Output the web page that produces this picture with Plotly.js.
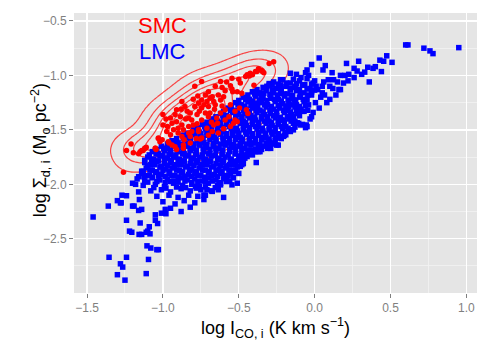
<!DOCTYPE html>
<html>
<head>
<meta charset="utf-8">
<script src="https://cdn.plot.ly/plotly-3.0.1.min.js"></script>
<style>
  html, body { margin: 0; padding: 0; background: #fff; }
  #panelGraph0 { width: 491px; height: 350px; }
</style>
</head>
<body>
<div id="panelGraph0"></div>
<script>
// SMC points [log I_CO, log Sigma_d]
var smcPoints = [
  [-1.21,-1.63],[-1.24,-1.69],[-1.195,-1.71],[-1.16,-1.72],[-1.15,-1.70],[-1.11,-1.66],[-1.13,-1.69],
  [-1.045,-1.68],[-1.03,-1.58],[-1.26,-1.89],[-1.14,-1.69],[-1.12,-1.67],[-1.05,-1.67],[-1.02,-1.61],
  [-0.96,-1.62],[-0.94,-1.64],[-0.91,-1.68],[-0.90,-1.53],[-0.875,-1.56],[-0.865,-1.64],[-0.83,-1.53],
  [-0.81,-1.515],[-0.82,-1.56],[-0.765,-1.515],[-0.755,-1.585],
  [-0.39,-0.965],[-0.37,-0.94],[-0.43,-1.005],[-0.455,-1.01],[-0.50,-1.035],[-0.545,-1.025],[-0.58,-1.06],
  [-0.62,-1.055],[-0.655,-1.10],[-0.61,-1.11],[-0.555,-1.095],[-0.59,-1.14],[-0.545,-1.125],[-0.51,-1.15],
  [-0.49,-1.07],[-0.48,-1.165],
  [-0.70,-1.15],[-0.72,-1.18],[-0.675,-1.195],[-0.745,-1.225],[-0.71,-1.24],[-0.665,-1.24],[-0.765,-1.255],
  [-0.80,-1.22],[-0.79,-1.285],[-0.745,-1.30],[-0.70,-1.285],[-0.655,-1.27],[-0.62,-1.225],[-0.635,-1.18],
  [-0.60,-1.195],[-0.72,-1.345],[-0.69,-1.345],[-0.775,-1.36],[-0.82,-1.345],[-0.855,-1.285],[-0.83,-1.39],
  [-0.885,-1.38],[-0.92,-1.36],[-0.95,-1.39],[-0.94,-1.44],[-0.91,-1.425],[-0.875,-1.455],[-0.90,-1.485],
  [-0.865,-1.50],[-0.83,-1.47],[-0.80,-1.455],[-0.765,-1.50],[-0.775,-1.445],[-0.745,-1.41],[-0.71,-1.485],
  [-0.665,-1.455],[-0.645,-1.39],[-0.62,-1.345],[-0.59,-1.315],[-0.555,-1.27],[-0.565,-1.38],[-0.525,-1.33],
  [-0.59,-1.41],[-0.635,-1.53],[-0.675,-1.515],[-0.745,-1.575],[-0.82,-1.62],[-0.865,-1.67],[-0.92,-1.655],
  [-0.965,-1.61],[-0.975,-1.515],[-0.95,-1.545],[-1.00,-1.455],[-1.005,-1.59],[-1.03,-1.575],[-1.05,-1.67],
  [-1.115,-1.67],[-1.00,-1.36],[-0.91,-1.315],[-0.875,-1.24],[-0.79,-1.10],[-0.745,-1.055],[-0.555,-1.47],
  [-0.51,-1.425],[-0.45,-1.315],[-0.44,-1.35],[-0.495,-1.30],[-0.535,-1.44],[-0.525,-1.41],[-0.54,-1.15],
  [-0.40,-1.09],[-0.445,-0.995],[-0.425,-0.98],[-0.38,-0.965],[-0.345,-0.965],[-0.335,-0.975],[-0.30,-0.89],
  [-0.27,-0.875],[-0.41,-0.995],[-0.35,-0.955],
  [-0.98,-1.40],[-0.97,-1.47],[-0.93,-1.50],[-0.85,-1.40],[-0.81,-1.41],[-0.68,-1.43],[-0.70,-1.38],
  [-0.76,-1.33],[-0.66,-1.31],[-0.73,-1.27],[-0.69,-1.21],[-0.77,-1.19],[-0.84,-1.33],[-0.88,-1.31],
  [-0.61,-1.28],[-0.64,-1.44],[-0.60,-1.49],[-0.70,-1.55],[-0.78,-1.58],[-0.86,-1.59]
];

// LMC points [log I_CO, log Sigma_d]
var lmcPoints = [
  // sparse lower-left tail
  [-1.46,-2.30],[-1.355,-2.67],[-1.24,-2.67],[-1.28,-2.73],[-1.265,-2.76],[-1.30,-2.83],[-1.25,-2.88],
  [-1.11,-2.82],[-1.095,-2.69],[-1.105,-2.565],[-1.08,-2.585],[-1.04,-2.60],[-1.03,-2.60],[-1.24,-2.33],
  [-1.22,-2.43],[-1.205,-2.44],[-1.15,-2.355],[-1.157,-2.46],[-1.14,-2.46],[-1.11,-2.44],[-1.10,-2.43],
  [-1.09,-2.39],[-1.085,-2.455],[-1.05,-2.33],[-1.035,-2.36],[-1.05,-2.28],[-1.01,-2.265],[-0.98,-2.27],
  [-0.985,-2.23],[-1.16,-2.24],[-1.36,-2.20],[-1.20,-2.20],[-1.275,-2.17],[-1.30,-2.15],[-1.27,-2.10],
  [-1.28,-2.17],[-1.24,-2.105],[-1.20,-1.99],[-1.18,-2.00],[-1.19,-2.20],[-1.155,-2.14],[-1.14,-1.88],
  [-1.125,-1.93],[-1.16,-2.07],[-1.14,-2.23],
  // main cloud
  [-0.27,-1.06],[-0.21,-1.04],[-0.16,-1.07],[-0.10,-1.05],[-0.05,-1.03],[-0.02,-1.08],
  [-0.30,-1.075],[-0.24,-1.08],[-0.185,-1.07],[-0.12,-1.075],[-0.065,-1.085],[-0.01,-1.07],
  [-0.34,-1.11],[-0.30,-1.09],[-0.25,-1.12],[-0.19,-1.10],[-0.13,-1.11],[-0.08,-1.09],[-0.03,-1.12],[0.01,-1.10],
  [-0.38,-1.13],[-0.32,-1.125],[-0.28,-1.135],[-0.22,-1.125],[-0.16,-1.12],[-0.10,-1.13],[-0.05,-1.125],[0.0,-1.135],
  [-0.41,-1.15],[-0.37,-1.17],[-0.32,-1.14],[-0.27,-1.16],[-0.22,-1.15],[-0.18,-1.17],[-0.12,-1.14],[-0.07,-1.16],[-0.02,-1.15],
  [-0.44,-1.18],[-0.395,-1.17],[-0.35,-1.185],[-0.295,-1.175],[-0.245,-1.18],[-0.20,-1.17],[-0.145,-1.185],[-0.095,-1.175],[-0.045,-1.18],
  [-0.47,-1.20],[-0.43,-1.22],[-0.39,-1.19],[-0.34,-1.21],[-0.29,-1.20],[-0.24,-1.22],[-0.20,-1.19],[-0.15,-1.21],[-0.10,-1.20],[-0.05,-1.22],
  [-0.50,-1.23],[-0.455,-1.22],[-0.41,-1.235],[-0.365,-1.225],[-0.315,-1.23],[-0.265,-1.22],[-0.22,-1.235],[-0.175,-1.225],[-0.125,-1.23],[-0.075,-1.22],
  [-0.52,-1.25],[-0.48,-1.27],[-0.44,-1.24],[-0.40,-1.26],[-0.35,-1.25],[-0.31,-1.27],[-0.26,-1.24],[-0.21,-1.26],[-0.17,-1.25],[-0.12,-1.27],[-0.07,-1.24],
  [-0.55,-1.28],[-0.505,-1.27],[-0.46,-1.285],[-0.42,-1.275],[-0.375,-1.28],[-0.33,-1.27],[-0.285,-1.285],[-0.24,-1.275],[-0.19,-1.28],[-0.145,-1.27],[-0.10,-1.285],[-0.06,-1.275],
  [-0.57,-1.30],[-0.53,-1.32],[-0.49,-1.29],[-0.45,-1.31],[-0.41,-1.30],[-0.36,-1.32],[-0.32,-1.29],[-0.27,-1.31],[-0.23,-1.30],[-0.18,-1.32],[-0.13,-1.29],[-0.09,-1.31],
  [-0.60,-1.33],[-0.555,-1.32],[-0.51,-1.335],[-0.47,-1.325],[-0.43,-1.33],[-0.385,-1.32],[-0.34,-1.335],[-0.295,-1.325],[-0.25,-1.33],[-0.205,-1.32],[-0.16,-1.335],[-0.12,-1.325],[-0.08,-1.33],
  [-0.62,-1.35],[-0.58,-1.37],[-0.54,-1.34],[-0.50,-1.36],[-0.46,-1.35],[-0.42,-1.37],[-0.38,-1.34],[-0.33,-1.36],[-0.29,-1.35],[-0.25,-1.37],[-0.20,-1.34],[-0.15,-1.36],[-0.11,-1.35],
  [-0.65,-1.38],[-0.605,-1.37],[-0.565,-1.385],[-0.52,-1.375],[-0.48,-1.38],[-0.44,-1.37],[-0.395,-1.385],[-0.35,-1.375],[-0.31,-1.38],[-0.27,-1.37],[-0.225,-1.385],[-0.18,-1.375],[-0.14,-1.38],[-0.10,-1.37],
  [-0.68,-1.40],[-0.64,-1.42],[-0.60,-1.39],[-0.56,-1.41],[-0.52,-1.40],[-0.47,-1.42],[-0.43,-1.39],[-0.39,-1.41],[-0.35,-1.40],[-0.30,-1.42],[-0.26,-1.39],[-0.22,-1.41],[-0.17,-1.40],[-0.13,-1.42],
  [-0.71,-1.43],[-0.665,-1.42],[-0.62,-1.435],[-0.58,-1.425],[-0.54,-1.43],[-0.50,-1.42],[-0.455,-1.435],[-0.41,-1.425],[-0.37,-1.43],[-0.33,-1.42],[-0.285,-1.435],[-0.24,-1.425],[-0.20,-1.43],[-0.155,-1.42],[-0.115,-1.435],
  [-0.74,-1.45],[-0.70,-1.47],[-0.66,-1.44],[-0.62,-1.46],[-0.58,-1.45],[-0.54,-1.47],[-0.49,-1.44],[-0.45,-1.46],[-0.41,-1.45],[-0.37,-1.47],[-0.32,-1.44],[-0.28,-1.46],[-0.24,-1.45],[-0.19,-1.47],[-0.14,-1.44],
  [-0.77,-1.48],[-0.725,-1.47],[-0.68,-1.485],[-0.64,-1.475],[-0.60,-1.48],[-0.56,-1.47],[-0.515,-1.485],[-0.47,-1.475],[-0.43,-1.48],[-0.39,-1.47],[-0.345,-1.485],[-0.30,-1.475],[-0.26,-1.48],[-0.22,-1.47],[-0.175,-1.485],[-0.13,-1.475],
  [-0.80,-1.50],[-0.76,-1.52],[-0.72,-1.49],[-0.68,-1.51],[-0.64,-1.50],[-0.60,-1.52],[-0.55,-1.49],[-0.51,-1.51],[-0.47,-1.50],[-0.43,-1.52],[-0.38,-1.49],[-0.34,-1.51],[-0.30,-1.50],[-0.26,-1.52],[-0.21,-1.49],[-0.17,-1.51],
  [-0.84,-1.53],[-0.795,-1.52],[-0.75,-1.535],[-0.71,-1.525],[-0.67,-1.53],[-0.625,-1.52],[-0.58,-1.535],[-0.54,-1.525],[-0.50,-1.53],[-0.455,-1.52],[-0.41,-1.535],[-0.37,-1.525],[-0.325,-1.53],[-0.285,-1.52],[-0.24,-1.535],[-0.195,-1.525],
  [-0.87,-1.55],[-0.83,-1.57],[-0.79,-1.54],[-0.75,-1.56],[-0.71,-1.55],[-0.66,-1.57],[-0.62,-1.54],[-0.58,-1.56],[-0.54,-1.55],[-0.49,-1.57],[-0.45,-1.54],[-0.41,-1.56],[-0.37,-1.55],[-0.32,-1.57],[-0.28,-1.54],[-0.24,-1.56],[-0.20,-1.55],
  [-0.91,-1.58],[-0.865,-1.57],[-0.82,-1.585],[-0.78,-1.575],[-0.735,-1.58],[-0.69,-1.57],[-0.65,-1.585],[-0.605,-1.575],[-0.56,-1.58],[-0.52,-1.57],[-0.475,-1.585],[-0.43,-1.575],[-0.39,-1.58],[-0.345,-1.57],[-0.30,-1.585],[-0.26,-1.575],[-0.22,-1.58],
  [-0.94,-1.60],[-0.90,-1.62],[-0.86,-1.59],[-0.82,-1.61],[-0.77,-1.60],[-0.73,-1.62],[-0.69,-1.59],[-0.65,-1.61],[-0.60,-1.60],[-0.56,-1.62],[-0.52,-1.59],[-0.48,-1.61],[-0.43,-1.60],[-0.39,-1.62],[-0.35,-1.59],[-0.30,-1.61],[-0.26,-1.60],
  [-0.97,-1.63],[-0.925,-1.62],[-0.88,-1.635],[-0.84,-1.625],[-0.795,-1.63],[-0.75,-1.62],[-0.71,-1.635],[-0.665,-1.625],[-0.62,-1.63],[-0.58,-1.62],[-0.535,-1.635],[-0.49,-1.625],[-0.45,-1.63],[-0.405,-1.62],[-0.36,-1.635],[-0.32,-1.625],[-0.28,-1.63],
  [-1.01,-1.65],[-0.97,-1.67],[-0.93,-1.64],[-0.89,-1.66],[-0.84,-1.65],[-0.80,-1.67],[-0.76,-1.64],[-0.72,-1.66],[-0.67,-1.65],[-0.63,-1.67],[-0.59,-1.64],[-0.55,-1.66],[-0.50,-1.65],[-0.46,-1.67],[-0.42,-1.64],[-0.37,-1.66],[-0.33,-1.65],[-0.29,-1.67],
  [-1.04,-1.68],[-0.995,-1.67],[-0.95,-1.685],[-0.91,-1.675],[-0.865,-1.68],[-0.82,-1.67],[-0.78,-1.685],[-0.735,-1.675],[-0.69,-1.68],[-0.65,-1.67],[-0.605,-1.685],[-0.56,-1.675],[-0.52,-1.68],[-0.475,-1.67],[-0.43,-1.685],[-0.39,-1.675],[-0.35,-1.68],[-0.31,-1.67],
  [-1.07,-1.70],[-1.03,-1.72],[-0.99,-1.69],[-0.95,-1.71],[-0.90,-1.70],[-0.86,-1.72],[-0.82,-1.69],[-0.78,-1.71],[-0.73,-1.70],[-0.69,-1.72],[-0.65,-1.69],[-0.61,-1.71],[-0.56,-1.70],[-0.52,-1.72],[-0.48,-1.69],[-0.44,-1.71],[-0.39,-1.70],
  [-1.09,-1.73],[-1.045,-1.72],[-1.00,-1.735],[-0.96,-1.725],[-0.915,-1.73],[-0.87,-1.72],[-0.83,-1.735],[-0.785,-1.725],[-0.74,-1.73],[-0.70,-1.72],[-0.655,-1.735],[-0.61,-1.725],[-0.57,-1.73],[-0.525,-1.72],[-0.48,-1.735],[-0.44,-1.725],[-0.41,-1.73],
  [-1.10,-1.75],[-1.06,-1.77],[-1.02,-1.74],[-0.97,-1.76],[-0.93,-1.75],[-0.89,-1.77],[-0.85,-1.74],[-0.80,-1.76],[-0.76,-1.75],[-0.72,-1.77],[-0.68,-1.74],[-0.63,-1.76],[-0.59,-1.75],[-0.55,-1.77],[-0.50,-1.74],[-0.46,-1.76],
  [-1.12,-1.78],[-1.075,-1.77],[-1.03,-1.785],[-0.99,-1.775],[-0.945,-1.78],[-0.90,-1.77],[-0.86,-1.785],[-0.815,-1.775],[-0.77,-1.78],[-0.73,-1.77],[-0.685,-1.785],[-0.64,-1.775],[-0.60,-1.78],[-0.555,-1.77],[-0.51,-1.785],[-0.47,-1.775],
  [-1.12,-1.80],[-1.08,-1.82],[-1.04,-1.79],[-0.99,-1.81],[-0.95,-1.80],[-0.91,-1.82],[-0.86,-1.79],[-0.82,-1.81],[-0.78,-1.80],[-0.74,-1.82],[-0.69,-1.79],[-0.65,-1.81],[-0.61,-1.80],[-0.56,-1.82],[-0.52,-1.79],[-0.47,-1.81],
  [-1.10,-1.83],[-1.055,-1.82],[-1.01,-1.835],[-0.97,-1.825],[-0.925,-1.83],[-0.88,-1.82],[-0.84,-1.835],[-0.795,-1.825],[-0.75,-1.83],[-0.71,-1.82],[-0.665,-1.835],[-0.62,-1.825],[-0.58,-1.83],[-0.535,-1.82],[-0.49,-1.835],
  [-1.11,-1.85],[-1.07,-1.87],[-1.02,-1.84],[-0.98,-1.86],[-0.94,-1.85],[-0.89,-1.87],[-0.85,-1.84],[-0.81,-1.86],[-0.76,-1.85],[-0.72,-1.87],[-0.68,-1.84],[-0.63,-1.86],[-0.59,-1.85],[-0.55,-1.87],[-0.51,-1.84],
  [-1.13,-1.88],[-1.085,-1.87],[-1.04,-1.885],[-1.00,-1.875],[-0.955,-1.88],[-0.91,-1.87],[-0.87,-1.885],[-0.825,-1.875],[-0.78,-1.88],[-0.74,-1.87],[-0.695,-1.885],[-0.65,-1.875],[-0.61,-1.88],[-0.565,-1.87],[-0.53,-1.885],
  [-1.14,-1.90],[-1.09,-1.92],[-1.05,-1.89],[-1.01,-1.91],[-0.96,-1.90],[-0.92,-1.92],[-0.88,-1.89],[-0.83,-1.91],[-0.79,-1.90],[-0.75,-1.92],[-0.70,-1.89],[-0.66,-1.91],[-0.62,-1.90],[-0.57,-1.92],
  [-1.16,-1.93],[-1.115,-1.92],[-1.07,-1.935],[-1.03,-1.925],[-0.985,-1.93],[-0.94,-1.92],[-0.90,-1.935],[-0.855,-1.925],[-0.81,-1.93],[-0.77,-1.92],[-0.725,-1.935],[-0.68,-1.925],[-0.64,-1.93],[-0.595,-1.92],
  [-1.17,-1.95],[-1.12,-1.97],[-1.07,-1.94],[-1.02,-1.96],[-0.97,-1.95],[-0.93,-1.97],[-0.88,-1.94],[-0.84,-1.96],[-0.79,-1.95],[-0.74,-1.97],[-0.70,-1.94],[-0.65,-1.96],[-0.60,-1.95],[-0.56,-1.97],
  [-1.10,-1.98],[-1.04,-1.975],[-0.985,-1.985],[-0.95,-1.975],[-0.90,-1.98],[-0.855,-1.97],[-0.81,-1.985],[-0.77,-1.975],[-0.72,-1.98],[-0.675,-1.97],[-0.63,-1.985],[-0.58,-1.975],
  [-1.13,-2.01],[-1.05,-2.00],[-0.99,-2.02],[-0.93,-1.99],[-0.87,-2.01],[-0.81,-2.00],[-0.76,-2.02],[-0.70,-1.99],[-0.64,-2.01],
  [-1.06,-2.03],[-0.98,-2.035],[-0.91,-2.025],[-0.85,-2.03],[-0.78,-2.035],[-0.72,-2.025],[-0.655,-2.03],
  [-1.08,-2.06],[-1.01,-2.05],[-0.95,-2.07],[-0.88,-2.04],[-0.82,-2.06],[-0.75,-2.05],[-0.68,-2.06],
  [-1.04,-2.11],[-0.96,-2.10],[-0.90,-2.12],[-0.83,-2.10],[-0.77,-2.11],[-0.72,-2.10],[-0.60,-2.12],
  [-1.00,-2.16],[-0.92,-2.18],[-0.86,-2.15],[-0.79,-2.17],[-0.73,-2.14],[-0.95,-2.22],[-0.88,-2.25],[-0.82,-2.21],
  // cloud edges
  [-0.385,-1.80],[-0.48,-1.82],[-0.47,-1.73],[-0.495,-1.775],[-0.42,-1.69],[-0.40,-1.70],[-0.36,-1.70],
  [-0.24,-1.64],[-0.28,-1.62],[-0.30,-1.645],[-0.205,-1.56],[-0.16,-1.515],[-0.05,-1.47],[-0.51,-1.99],
  [-0.545,-2.005],[-0.62,-1.99],[-0.635,-2.05],[-0.675,-2.065],[-0.71,-2.05],[-0.73,-2.10],[-0.535,-1.94],
  [-0.59,-1.93],[-0.555,-1.90],[-0.52,-1.87],[-0.115,-1.33],[-0.105,-1.44],[-0.16,-1.50],[-0.19,-1.545],
  [-0.25,-1.575],[-0.25,-1.64],[-0.315,-1.62],[-0.37,-1.70],[-0.445,-1.745],[-0.51,-1.835],[-0.50,-1.90],
  [-0.58,-1.96],[-0.62,-2.005],[-0.785,-2.02],
  [-0.29,-1.21],[-0.225,-1.165],[-0.16,-1.135],[-0.225,-1.09],[-0.36,-1.165],[-0.38,-1.255],[-0.40,-1.15],
  [-0.315,-1.10],[-0.125,-1.10],[-0.135,-1.225],[-0.17,-1.285],[-0.205,-1.41],
  [-0.16,-0.98],[-0.14,-1.035],[-0.225,-1.04],[-0.28,-1.09],[-0.36,-1.16],[-0.335,-1.165],[-0.05,-0.95],
  [-0.06,-0.975],[-0.02,-0.90],
  // upper right branch
  [0.03,-0.84],[0.07,-0.91],[0.17,-1.13],[0.10,-1.22],[0.08,-1.25],[0.065,-1.18],[0.04,-1.20],
  [0.005,-1.25],[-0.02,-1.38],[-0.01,-1.34],[-0.06,-1.48],[-0.08,-1.45],[-0.055,-1.455],[0.115,-0.975],
  [0.125,-1.04],[0.15,-1.06],[0.09,-1.04],[0.06,-1.06],[0.055,-0.95],
  [-0.12,-0.99],[-0.09,-1.02],[-0.04,-1.00],[0.0,-1.05],[0.02,-1.13],[-0.02,-1.18],[0.05,-1.10],[0.12,-1.12],
  [0.14,-1.18],[0.03,-1.30],[-0.04,-1.27],[-0.07,-1.33],[-0.03,-1.40],[0.10,-1.10],[0.19,-1.07],[0.22,-1.05],
  [0.31,-0.99],[0.33,-0.97],[0.28,-0.96],[0.16,-1.13],[0.05,-1.16],[-0.045,-1.32],[-0.094,-1.455],[-0.14,-1.50],
  [0.60,-0.72],[0.615,-0.72],[0.72,-0.75],[0.76,-0.775],[0.78,-0.80],[0.95,-0.745],[0.475,-0.82],[0.455,-0.87],
  [0.43,-0.86],[0.51,-0.88],[0.29,-0.87],[0.21,-0.89],[0.40,-0.92],[0.385,-0.935],[0.35,-0.925],[0.44,-0.965],
  [0.26,-0.935],[0.225,-0.99],[0.20,-1.00],[0.17,-1.00],[0.36,-1.06],[0.26,-1.02]
];

var xTickVals = [-1.5, -1.0, -0.5, 0.0, 0.5, 1.0];
var xTickText = ['\u22121.5', '\u22121.0', '\u22120.5', '0.0', '0.5', '1.0'];
var yTickVals = [-2.5, -2.0, -1.5, -1.0, -0.5];
var yTickText = ['\u22122.5', '\u22122.0', '\u22121.5', '\u22121.0', '\u22120.5'];

var smcX = smcPoints.map(function (p) { return p[0]; });
var smcY = smcPoints.map(function (p) { return p[1]; });
var lmcX = lmcPoints.map(function (p) { return p[0]; });
var lmcY = lmcPoints.map(function (p) { return p[1]; });

// 2d kernel density of the SMC points (like MASS::kde2d, a bit smoother)
function bandwidth(v) {
  var s = v.slice().sort(function (a, b) { return a - b; });
  var n = s.length;
  var mean = s.reduce(function (a, b) { return a + b; }, 0) / n;
  var sd = Math.sqrt(s.reduce(function (a, b) { return a + (b - mean) * (b - mean); }, 0) / (n - 1));
  var q1 = s[Math.floor(0.25 * (n - 1))], q3 = s[Math.floor(0.75 * (n - 1))];
  return 4 * 1.06 * Math.min(sd, (q3 - q1) / 1.34) * Math.pow(n, -0.2);
}
var hx = bandwidth(smcX) / 4 * 1.2, hy = bandwidth(smcY) / 4 * 1.2;
var gx = [], gy = [], gz = [];
for (var i = 0; i <= 100; i++) gx.push(-1.7 + i * 0.018);
for (var j = 0; j <= 100; j++) gy.push(-2.2 + j * 0.017);
var zmax = 0;
gy.forEach(function (yy) {
  var row = gx.map(function (xx) {
    var s = 0;
    for (var k = 0; k < smcX.length; k++) {
      var dx = (xx - smcX[k]) / hx, dy = (yy - smcY[k]) / hy;
      s += Math.exp(-0.5 * (dx * dx + dy * dy));
    }
    s = s / (smcX.length * 2 * Math.PI * hx * hy);
    if (s > zmax) zmax = s;
    return s;
  });
  gz.push(row);
});

var trace1 = {
  x: lmcX,
  y: lmcY,
  name: 'LMC',
  type: 'scatter',
  mode: 'markers',
  marker: { symbol: 'square', size: 5.5, color: '#0000FF' },
  hoverinfo: 'skip'
};

var trace2 = {
  x: smcX,
  y: smcY,
  name: 'SMC',
  type: 'scatter',
  mode: 'markers',
  marker: { symbol: 'circle', size: 5.5, color: '#FF0000' },
  hoverinfo: 'skip'
};

var trace3 = {
  x: gx,
  y: gy,
  z: gz,
  type: 'contour',
  showscale: false,
  colorscale: [[0, '#FF0000'], [1, '#FF0000']],
  contours: { coloring: 'lines', start: zmax * 0.08, end: zmax * 0.95, size: zmax * 0.14 },
  line: { width: 1.2, smoothing: 1 },
  opacity: 0.7,
  hoverinfo: 'skip'
};

var data = [trace1, trace2, trace3];

var axisFont = { family: 'Liberation Sans, Arial, sans-serif', size: 12, color: '#7F7F7F' };

var layout = {
  width: 491,
  height: 350,
  margin: { l: 74, r: 14, t: 13, b: 57 },
  paper_bgcolor: '#FFFFFF',
  plot_bgcolor: '#E5E5E5',
  showlegend: false,
  font: { family: 'Liberation Sans, Arial, sans-serif', color: '#000000' },
  xaxis: {
    title: { text: 'log I<sub>CO, i</sub> (K km s<sup>\u22121</sup>)', font: { size: 18, color: '#000' }, standoff: 6 },
    range: [-1.586, 1.07],
    tickmode: 'array',
    tickvals: xTickVals,
    ticktext: xTickText,
    tickfont: axisFont,
    ticks: 'outside',
    ticklen: 4,
    tickwidth: 1,
    tickcolor: '#7F7F7F',
    showgrid: true,
    gridcolor: '#FFFFFF',
    gridwidth: 1.3,
    minor: { dtick: 0.25, tick0: 0, showgrid: true, gridcolor: '#F2F2F2', gridwidth: 0.8 },
    zeroline: false,
    showline: false
  },
  yaxis: {
    range: [-2.998, -0.427],
    tickmode: 'array',
    tickvals: yTickVals,
    ticktext: yTickText,
    tickfont: axisFont,
    ticks: 'outside',
    ticklen: 4,
    tickwidth: 1,
    tickcolor: '#7F7F7F',
    showgrid: true,
    gridcolor: '#FFFFFF',
    gridwidth: 1.3,
    minor: { dtick: 0.25, tick0: 0, showgrid: true, gridcolor: '#F2F2F2', gridwidth: 0.8 },
    zeroline: false,
    showline: false
  },
  annotations: [
    { x: -0.084, y: 0.51, xref: 'paper', yref: 'paper', textangle: -90,
      text: 'log \u03A3<sub>d, i</sub> (M<sub>o</sub> pc<sup>\u22122</sup>)', showarrow: false,
      font: { size: 18, color: '#000000' }, xanchor: 'center', yanchor: 'middle' },
    { x: -1.0, y: -0.54, xref: 'x', yref: 'y', text: 'SMC', showarrow: false,
      font: { size: 22, color: '#FF0000' }, xanchor: 'center', yanchor: 'middle' },
    { x: -1.0, y: -0.785, xref: 'x', yref: 'y', text: 'LMC', showarrow: false,
      font: { size: 22, color: '#0000FF' }, xanchor: 'center', yanchor: 'middle' }
  ]
};

Plotly.newPlot('panelGraph0', data, layout, { displayModeBar: false, staticPlot: true });
</script>
</body>
</html>
